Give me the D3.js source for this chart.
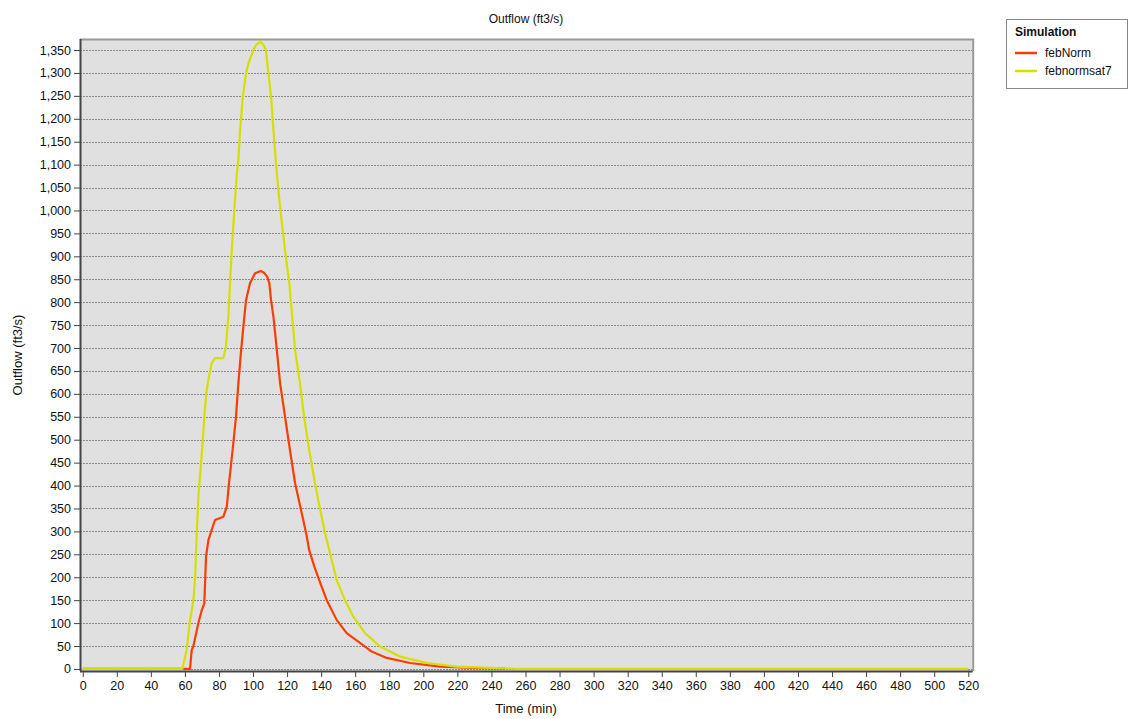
<!DOCTYPE html>
<html>
<head>
<meta charset="UTF-8" />
<style>
    body { margin: 0; background: #fff; }
    text { font-family: "Liberation Sans", Arial, sans-serif; font-size: 12px; fill: #111; }
    .grid line { stroke: #8a8a8a; stroke-dasharray: 2,1; }
    .axis path, .axis line { stroke: #444; }
    .axis text { font-size: 12.5px; fill: #111; }
</style>
<script src="https://d3js.org/d3.v7.min.js"></script>
</head>
<body>
<svg width="1132" height="719"></svg>
<script>
// febNorm
var redTime = [0, 63, 64, 65, 67.9, 69.9, 71.4, 72.4, 73.8, 75.7, 77.7, 82.6, 84.6, 85.9, 88, 90, 91.4, 93, 94.9, 95.9, 98.2, 101.2, 104.5, 106.5, 108.4, 109.6, 110.6, 112, 114, 115.9, 118.8, 121.7, 124.7, 128.6, 131.5, 133, 136, 140, 143.3, 149.1, 155, 162.8, 169.7, 178.5, 192.2, 209.8, 230, 248];
var redFlow = [0, 0, 41, 50, 100, 128, 143, 245, 281, 303, 325, 332, 354, 405, 477, 550, 623, 695, 768, 804, 841, 863, 868, 864, 855, 841, 804, 768, 695, 623, 550, 477, 405, 340, 290, 259, 223, 182, 150, 107, 78, 57, 38, 24, 13, 5, 2, 1];

// febnormsat7
var yelTime = [0, 58.5, 61, 62.8, 65, 66, 67, 68, 69.5, 70.5, 71.4, 72.5, 73.5, 75.7, 77.7, 82.6, 84, 85.5, 86.5, 87.5, 89, 90.5, 91.4, 92.4, 94, 95.9, 97.3, 100.2, 102, 104.5, 106, 107.6, 108.4, 110.6, 112, 113.3, 115, 117, 118.8, 121.3, 123, 124.7, 127.6, 130, 133, 136.4, 138.3, 142.3, 145.2, 149.1, 154, 158.9, 165.8, 174.6, 186.3, 202, 219.6, 235, 250, 255, 520];
var yelFlow = [0, 0, 41, 100, 150, 200, 300, 380, 450, 500, 550, 600, 625, 667, 678, 678, 700, 768, 841, 913, 1000, 1080, 1110, 1175, 1248, 1299, 1321, 1350, 1362, 1368, 1362, 1350, 1321, 1248, 1175, 1110, 1040, 970, 913, 841, 768, 695, 623, 550, 477, 405, 368, 296, 253, 194, 150, 114, 78, 49, 27, 13, 5, 3, 1, 0, 0];

var seriesNames = ["febNorm", "febnormsat7"];
var seriesColors = ["#ff3c00", "#d6e000"];
var xTicks = d3.range(0, 521, 20);
var yTicks = d3.range(0, 1351, 50);

var svg = d3.select("svg");
var pLeft = 80, pRight = 972.7, pTop = 39, pBottom = 671;

var x = d3.scaleLinear().domain([-1.6, 522.6]).range([pLeft, pRight]);
var y = d3.scaleLinear().domain([-4.5, 1374]).range([pBottom, pTop]);

// plot background
svg.append("rect")
   .attr("x", pLeft).attr("y", pTop)
   .attr("width", pRight - pLeft).attr("height", pBottom - pTop)
   .attr("fill", "#e0e0e0");

// grid
svg.append("g").attr("class", "grid")
   .selectAll("line").data(yTicks).enter().append("line")
   .attr("x1", pLeft).attr("x2", pRight)
   .attr("y1", function(d) { return Math.round(y(d)) + 0.5; })
   .attr("y2", function(d) { return Math.round(y(d)) + 0.5; });

// top / right border
svg.append("path")
   .attr("d", "M" + pLeft + "," + (pTop + 0.5) + "H" + (pRight + 0.5) + "V" + pBottom)
   .attr("fill", "none").attr("stroke", "#9a9a9a").attr("stroke-width", 2);

var fmt = d3.format(",");

svg.append("g").attr("class", "axis")
   .attr("transform", "translate(" + pLeft + ",0)")
   .call(d3.axisLeft(y).tickValues(yTicks).tickFormat(fmt).tickSize(6).tickPadding(3))
   .call(function(g) { g.select(".domain").attr("d", "M0.5," + pTop + "V" + pBottom).attr("stroke-width", 2); });

svg.append("g").attr("class", "axis")
   .attr("transform", "translate(0," + pBottom + ")")
   .call(d3.axisBottom(x).tickValues(xTicks).tickSize(6).tickPadding(4))
   .call(function(g) { g.select(".domain").attr("d", "M" + pLeft + ",0.5H" + pRight).attr("stroke-width", 2); });

var line = d3.line()
    .x(function(d) { return x(d[0]); })
    .y(function(d) { return y(d[1]); });

var series = [
    d3.zip(redTime, redFlow),
    d3.zip(yelTime, yelFlow)
];

svg.append("g").selectAll("path").data(series).enter().append("path")
   .attr("d", line)
   .attr("fill", "none")
   .attr("stroke", function(d, i) { return seriesColors[i]; })
   .attr("stroke-width", 2.2)
   .attr("stroke-linejoin", "round");

// titles
svg.append("text").attr("x", 526).attr("y", 23).attr("text-anchor", "middle")
   .text("Outflow (ft3/s)");
svg.append("text").attr("x", 526).attr("y", 713).attr("text-anchor", "middle")
   .style("font-size", "13px").text("Time (min)");
svg.append("text").attr("transform", "translate(22,355) rotate(-90)").attr("text-anchor", "middle")
   .style("font-size", "13px").text("Outflow (ft3/s)");

// legend
var lg = svg.append("g").attr("transform", "translate(1006,19)");
lg.append("rect").attr("x", 0.5).attr("y", 0.5).attr("width", 121).attr("height", 69)
  .attr("fill", "#fff").attr("stroke", "#888");
lg.append("text").attr("x", 9).attr("y", 17).style("font-weight", "bold").text("Simulation");
var items = lg.selectAll(".item").data(seriesNames).enter().append("g")
  .attr("transform", function(d, i) { return "translate(0," + (34 + i * 18) + ")"; });
items.append("line").attr("x1", 9).attr("x2", 31).attr("y1", 0).attr("y2", 0)
  .attr("stroke", function(d, i) { return seriesColors[i]; }).attr("stroke-width", 2.5);
items.append("text").attr("x", 39).attr("y", 4).text(function(d) { return d; });
</script>
</body>
</html>
